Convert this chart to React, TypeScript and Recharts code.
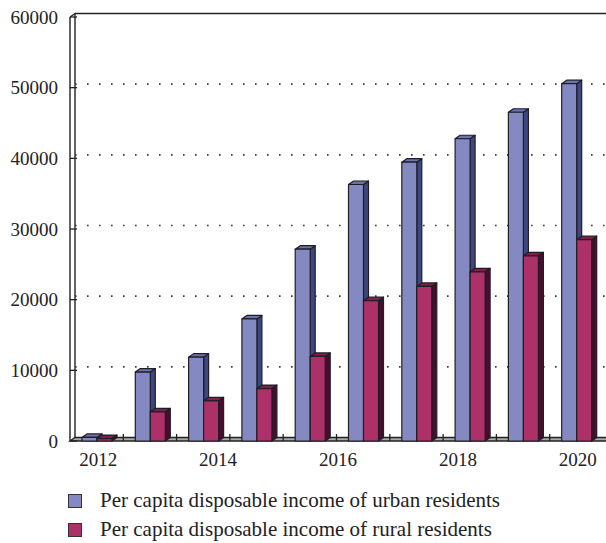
import { Bar, BarChart, CartesianGrid, XAxis, YAxis } from "recharts";

// Per capita disposable income, urban vs rural (yuan)
const years = ["2012", "2013", "2014", "2015", "2016", "2017", "2018", "2019", "2020", "2021"];
const urbanIncome = [500, 9760, 11870, 17280, 27140, 36300, 39460, 42770, 46520, 50560];
const ruralIncome = [350, 4130, 5680, 7420, 11970, 19860, 21870, 23940, 26200, 28490];
const yearTicks = [2012, 2014, 2016, 2018, 2020];
const incomeTicks = [0, 10000, 20000, 30000, 40000, 50000, 60000];

const data = years.map((year, i) => ({
  year,
  yearNum: Number(year),
  urban: urbanIncome[i],
  rural: ruralIncome[i],
}));

const WIDTH = 606;
const CHART_HEIGHT = 480;
const AXIS_WIDTH = 70;
const MARGIN = { top: 17, right: 3, bottom: 0, left: 0 };
const X_AXIS_HEIGHT = 39;
const PLOT_LEFT = AXIS_WIDTH;
const PLOT_TOP = MARGIN.top;
const PLOT_BOTTOM = CHART_HEIGHT - X_AXIS_HEIGHT;
const DX = 5;
const DY = 3.5;
const FONT = "'Liberation Serif', 'Times New Roman', serif";

const urbanColors = { front: "#8589C1", top: "#6A72B2", side: "#3F4782" };
const ruralColors = { front: "#AE3068", top: "#7C1F4A", side: "#4A0C2E" };

type BarShapeProps = { x?: number; y?: number; width?: number; height?: number };

function box3d(colors: { front: string; top: string; side: string }) {
  return function Box({ x = 0, y = 0, width = 0, height = 0 }: BarShapeProps) {
    const r = x + width;
    const b = y + height;
    return (
      <g stroke="#1e1e24" strokeWidth={1.2} strokeLinejoin="round">
        <polygon
          points={`${r},${y} ${r + DX},${y - DY} ${r + DX},${b - DY} ${r},${b}`}
          fill={colors.side}
        />
        <polygon
          points={`${x},${y} ${x + DX},${y - DY} ${r + DX},${y - DY} ${r},${y}`}
          fill={colors.top}
        />
        <rect x={x} y={y} width={width} height={height} fill={colors.front} />
      </g>
    );
  };
}

// back wall grid lines, pushed up and right by the depth offset
function GridLine(props: any) {
  const { x1, x2, y1, y2 } = props;
  return (
    <line
      x1={x1 + DX}
      x2={x2 + DX}
      y1={y1 - DY}
      y2={y2 - DY}
      stroke="#3a3a3a"
      strokeWidth={1.6}
      strokeDasharray="1.6 10.4"
    />
  );
}

// walls and floor behind the chart
function Frame() {
  const plotHeight = PLOT_BOTTOM - PLOT_TOP;
  const plotWidth = WIDTH - MARGIN.right - PLOT_LEFT;
  const step = plotWidth / years.length;
  const tickYs = incomeTicks.map((_, i) => PLOT_BOTTOM - (plotHeight * i) / (incomeTicks.length - 1));
  return (
    <svg
      width={WIDTH}
      height={CHART_HEIGHT}
      style={{ position: "absolute", left: 0, top: 0 }}
    >
      <g stroke="#222" strokeWidth={1.4} fill="none">
        <line x1={PLOT_LEFT + DX} y1={PLOT_TOP - DY} x2={WIDTH} y2={PLOT_TOP - DY} />
        <line x1={PLOT_LEFT} y1={PLOT_TOP} x2={PLOT_LEFT} y2={PLOT_BOTTOM} />
        <line x1={PLOT_LEFT + DX} y1={PLOT_TOP - DY} x2={PLOT_LEFT + DX} y2={PLOT_BOTTOM - DY} />
        <line x1={PLOT_LEFT} y1={PLOT_TOP} x2={PLOT_LEFT + DX} y2={PLOT_TOP - DY} />
      </g>
      <polygon
        points={`${PLOT_LEFT},${PLOT_BOTTOM} ${PLOT_LEFT + DX},${PLOT_BOTTOM - DY} ${WIDTH + DX},${PLOT_BOTTOM - DY} ${WIDTH},${PLOT_BOTTOM}`}
        fill="#a9a9a9"
        stroke="#222"
        strokeWidth={1.3}
      />
      <g stroke="#222" strokeWidth={1.3}>
        {tickYs.map((ty, i) => (
          <line key={`yt-${i}`} x1={PLOT_LEFT} y1={ty} x2={PLOT_LEFT + 7} y2={ty} />
        ))}
        {years.map((_, i) =>
          i === 0 ? null : (
            <line
              key={`xt-${i}`}
              x1={PLOT_LEFT + step * i}
              y1={PLOT_BOTTOM - 7}
              x2={PLOT_LEFT + step * i}
              y2={PLOT_BOTTOM}
            />
          )
        )}
      </g>
    </svg>
  );
}

function LegendRow({ color, label }: { color: string; label: string }) {
  return (
    <div style={{ display: "flex", alignItems: "center", height: 29 }}>
      <span
        style={{
          display: "inline-block",
          width: 12,
          height: 12,
          marginLeft: 68,
          marginRight: 18,
          background: color,
          border: "1px solid #333",
        }}
      />
      <span style={{ fontSize: 21, color: "#222", whiteSpace: "nowrap" }}>{label}</span>
    </div>
  );
}

export default function App() {
  return (
    <div
      style={{
        position: "fixed",
        left: 0,
        top: 0,
        width: WIDTH,
        height: 543,
        background: "#fff",
        fontFamily: FONT,
      }}
    >
      <div style={{ position: "relative", width: WIDTH, height: CHART_HEIGHT }}>
        <Frame />
        <div style={{ position: "absolute", left: 0, top: 0 }}>
          <BarChart
            width={WIDTH}
            height={CHART_HEIGHT}
            data={data}
            margin={MARGIN}
            barGap={0}
            barSize={15}
          >
            <CartesianGrid
              vertical={false}
              horizontalValues={[10000, 20000, 30000, 40000, 50000]}
              horizontal={(p: any) => <GridLine key={`g-${p.y1}`} {...p} />}
            />
            <XAxis dataKey="year" hide height={0} />
            {/* year labels sit on their own linear scale, spaced wider than the bars */}
            <XAxis
              xAxisId="years"
              dataKey="yearNum"
              type="number"
              domain={[2011.53, 2020.42]}
              allowDataOverflow
              ticks={yearTicks}
              interval={0}
              height={X_AXIS_HEIGHT}
              axisLine={false}
              tickLine={false}
              tickSize={0}
              tickMargin={12}
              tick={{ fill: "#222", fontSize: 19, fontFamily: FONT }}
            />
            <YAxis
              domain={[0, 60000]}
              ticks={incomeTicks}
              width={AXIS_WIDTH}
              axisLine={false}
              tickLine={false}
              tickSize={0}
              tickMargin={12}
              tick={{ fill: "#222", fontSize: 19, fontFamily: FONT }}
            />
            <Bar
              dataKey="urban"
              name="Per capita disposable income of urban residents"
              shape={box3d(urbanColors)}
              isAnimationActive={false}
            />
            <Bar
              dataKey="rural"
              name="Per capita disposable income of rural residents"
              shape={box3d(ruralColors)}
              isAnimationActive={false}
            />
          </BarChart>
        </div>
      </div>
      <div style={{ paddingTop: 6 }}>
        <LegendRow color={urbanColors.front} label="Per capita disposable income of urban residents" />
        <LegendRow color={ruralColors.front} label="Per capita disposable income of rural residents" />
      </div>
    </div>
  );
}
